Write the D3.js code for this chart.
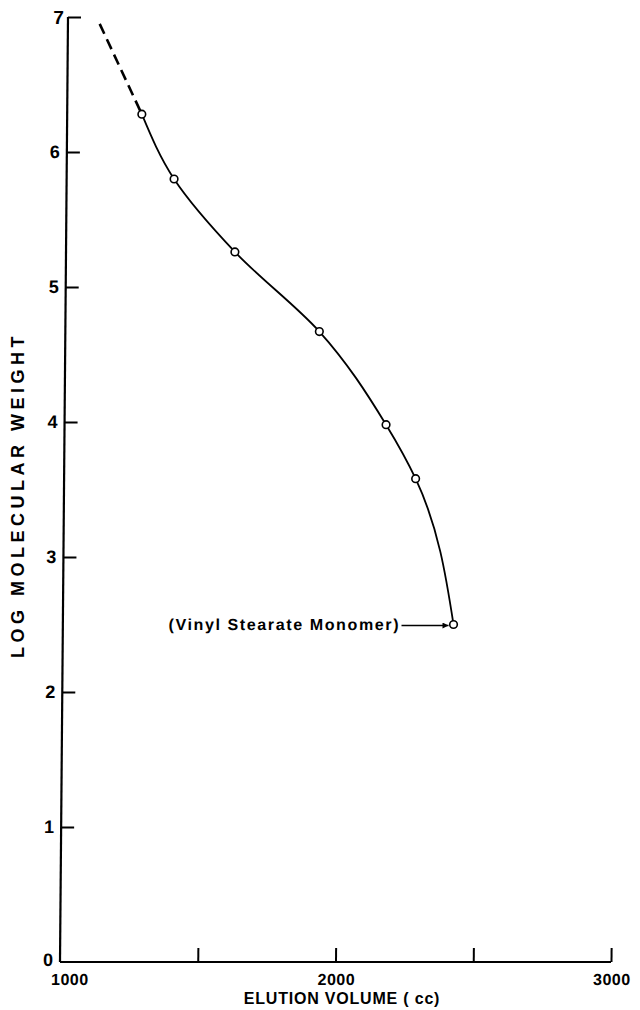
<!DOCTYPE html>
<html>
<head>
<meta charset="utf-8">
<script src="https://cdn.jsdelivr.net/npm/d3@7"></script>
<style>
  html, body { margin: 0; padding: 0; background: #fff; }
  svg { display: block; }
  text { font-family: "Liberation Sans", Arial, sans-serif; font-weight: 700; fill: #000; }
</style>
</head>
<body>
<svg id="chart" width="640" height="1010"></svg>
<script>
// ---- data ----
const elutionVolume = [1271, 1390, 1613, 1922, 2167, 2276, 2418];   // cc
const logMolWeight  = [6.28, 5.80, 5.26, 4.67, 3.98, 3.58, 2.50];
const extrapVolume  = [1271, 1108];                                  // dashed extension
const extrapLogMW   = [6.28, 6.98];
const xTicks = [1000, 1500, 2000, 2500, 3000];
const xTickLabels = ["1000", "", "2000", "", "3000"];
const yTicks = [0, 1, 2, 3, 4, 5, 6, 7];
const annotationText = "(Vinyl Stearate Monomer)";
const xTitle = "ELUTION VOLUME ( cc)";
const yTitle = "LOG MOLECULAR WEIGHT";

(function () {
// ---- layout ----
const plotLeft = 60, plotRight = 611, plotTop = 17, plotBottom = 962;
const svg = d3.select("#chart");

const x = d3.scaleLinear().domain([1000, 3000]).range([plotLeft, plotRight]);
const y = d3.scaleLinear().domain([0, 7]).range([plotBottom, plotTop]);

// slight skew of the scanned original (vertical axis leans right toward the top)
const k = 8 / (plotBottom - plotTop);
const g = svg.append("g")
  .attr("transform", `matrix(1,0,${-k},1,${k * plotBottom},0)`);

// axes
const xAxis = d3.axisTop(x).tickValues(xTicks.slice(1)).tickSize(14).tickFormat("");
const yAxis = d3.axisRight(y).tickValues(yTicks.filter(d => d > 0)).tickSize(13).tickFormat("");

const gx = g.append("g").attr("transform", `translate(0,${plotBottom})`).call(xAxis);
const gy = g.append("g").attr("transform", `translate(${plotLeft},0)`).call(yAxis);
[gx, gy].forEach(a => {
  a.select(".domain").remove();
  a.selectAll(".tick line").attr("stroke", "#000").attr("stroke-width", 2);
});

// axis lines
g.append("line").attr("x1", x(1000)).attr("x2", x(3000)).attr("y1", y(0)).attr("y2", y(0))
  .attr("stroke", "#000").attr("stroke-width", 2);
g.append("line").attr("x1", x(1000)).attr("x2", x(1000)).attr("y1", y(0)).attr("y2", y(7))
  .attr("stroke", "#000").attr("stroke-width", 2.2);

// tick labels
g.selectAll(".ylab").data(yTicks).join("text")
  .attr("class", "ylab")
  .attr("x", d => plotLeft - (d === 7 ? 4 : 7))
  .attr("y", d => y(d) + (d === 0 ? -2 : 0))
  .attr("dy", "0.36em")
  .attr("text-anchor", "end")
  .attr("font-size", d => d === 7 ? 19 : 18)
  .text(d => d);

const labelled = xTicks.filter((d, i) => xTickLabels[i] !== "");
g.selectAll(".xlab").data(labelled).join("text")
  .attr("class", "xlab")
  .attr("x", d => x(d) + (d === 1000 ? 10 : 1))
  .attr("y", plotBottom + 23)
  .attr("text-anchor", "middle")
  .attr("font-size", 16)
  .attr("letter-spacing", 0.5)
  .text(d => xTickLabels[xTicks.indexOf(d)]);

// data
const pts = elutionVolume.map((v, i) => [v, logMolWeight[i]]);
const line = d3.line().x(d => x(d[0])).y(d => y(d[1])).curve(d3.curveMonotoneY);

g.append("path").datum(pts).attr("d", line)
  .attr("fill", "none").attr("stroke", "#000").attr("stroke-width", 1.8);

const ext = extrapVolume.map((v, i) => [v, extrapLogMW[i]]);
g.append("path").datum(ext).attr("d", d3.line().x(d => x(d[0])).y(d => y(d[1])))
  .attr("fill", "none").attr("stroke", "#000").attr("stroke-width", 2.6)
  .attr("stroke-dasharray", "11,6").attr("stroke-dashoffset", -4);

g.selectAll(".pt").data(pts).join("circle")
  .attr("class", "pt")
  .attr("cx", d => x(d[0])).attr("cy", d => y(d[1])).attr("r", 3.8)
  .attr("fill", "#fff").attr("stroke", "#000").attr("stroke-width", 1.6);

// annotation with arrow
const last = pts[pts.length - 1];
const ax = x(last[0]), ay = y(last[1]);
svg.append("defs").append("marker")
  .attr("id", "arr").attr("viewBox", "0 0 10 10").attr("refX", 10).attr("refY", 5)
  .attr("markerWidth", 8).attr("markerHeight", 6).attr("markerUnits", "userSpaceOnUse")
  .attr("orient", "auto")
  .append("path").attr("d", "M0,0L10,5L0,10Z").attr("fill", "#000");
g.append("line")
  .attr("x1", ax - 52).attr("x2", ax - 5).attr("y1", ay + 1).attr("y2", ay + 1)
  .attr("stroke", "#000").attr("stroke-width", 1.6).attr("marker-end", "url(#arr)");
g.append("text")
  .attr("x", ax - 55).attr("y", ay + 6)
  .attr("text-anchor", "end")
  .attr("font-size", 16)
  .attr("textLength", 230).attr("lengthAdjust", "spacing")
  .text(annotationText);

// axis titles
svg.append("text")
  .attr("x", 342).attr("y", 1004)
  .attr("text-anchor", "middle")
  .attr("font-size", 16)
  .attr("letter-spacing", 0.8)
  .text(xTitle);

svg.append("text")
  .attr("transform", "translate(24,495) rotate(-90)")
  .attr("text-anchor", "middle")
  .attr("font-size", 18)
  .attr("letter-spacing", 4.5)
  .text(yTitle);
})();
</script>
</body>
</html>
